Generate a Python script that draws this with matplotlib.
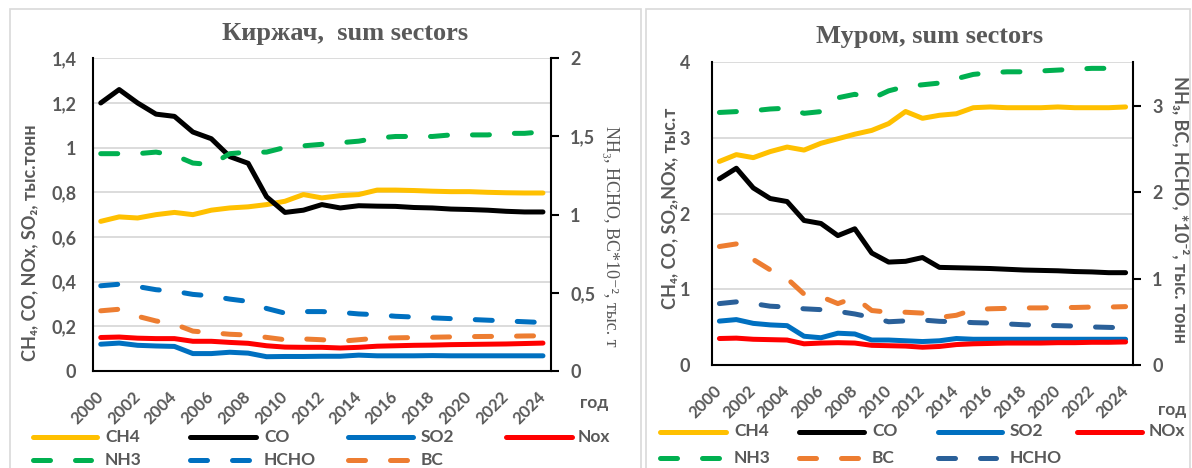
import matplotlib
matplotlib.use("Agg")
import matplotlib.pyplot as plt
from matplotlib.lines import Line2D
from matplotlib.patches import Rectangle
from matplotlib.ticker import FuncFormatter

# ---------------- data ----------------
years = list(range(2000, 2025))
year_ticks = list(range(2000, 2025, 2))

# Киржач (left axis: CH4, CO, SO2, NOx; right axis: NH3, HCHO, BC*10^-2)
kir_ch4 = [0.67, 0.69, 0.685, 0.70, 0.71, 0.70, 0.72, 0.73, 0.735, 0.745, 0.76, 0.79,
           0.775, 0.785, 0.79, 0.81, 0.81, 0.808, 0.805, 0.803, 0.803, 0.80, 0.798, 0.797, 0.797]
kir_co = [1.20, 1.26, 1.20, 1.15, 1.14, 1.07, 1.04, 0.96, 0.93, 0.78, 0.71, 0.72,
          0.745, 0.73, 0.74, 0.738, 0.737, 0.732, 0.73, 0.725, 0.723, 0.72, 0.715, 0.712, 0.712]
kir_so2 = [0.120, 0.125, 0.115, 0.112, 0.110, 0.078, 0.078, 0.084, 0.080, 0.064, 0.065, 0.065,
           0.066, 0.066, 0.071, 0.068, 0.068, 0.068, 0.069, 0.068, 0.068, 0.068, 0.068, 0.068, 0.068]
kir_nox = [0.150, 0.152, 0.147, 0.145, 0.145, 0.133, 0.133, 0.128, 0.124, 0.113, 0.107, 0.106,
           0.106, 0.103, 0.106, 0.111, 0.113, 0.115, 0.116, 0.118, 0.119, 0.120, 0.121, 0.123, 0.125]
kir_nh3 = [1.39, 1.39, 1.39, 1.40, 1.38, 1.33, 1.32, 1.39, 1.40, 1.40, 1.43, 1.44,
           1.45, 1.46, 1.47, 1.49, 1.50, 1.50, 1.50, 1.51, 1.51, 1.51, 1.52, 1.52, 1.53]
kir_hcho = [0.545, 0.555, 0.54, 0.52, 0.51, 0.49, 0.48, 0.46, 0.445, 0.40, 0.37, 0.38,
            0.38, 0.375, 0.365, 0.36, 0.35, 0.345, 0.34, 0.335, 0.33, 0.325, 0.32, 0.315, 0.31]
kir_bc = [0.385, 0.395, 0.35, 0.32, 0.30, 0.255, 0.245, 0.235, 0.23, 0.215, 0.20, 0.205,
          0.20, 0.19, 0.20, 0.21, 0.212, 0.214, 0.216, 0.218, 0.22, 0.221, 0.222, 0.224, 0.225]

# Муром (left axis: CH4, CO, SO2, NOx; right axis: NH3, BC, HCHO *10^-2)
mur_ch4 = [2.69, 2.78, 2.74, 2.82, 2.88, 2.84, 2.93, 2.99, 3.05, 3.10, 3.19, 3.35,
           3.26, 3.30, 3.32, 3.40, 3.41, 3.40, 3.40, 3.40, 3.41, 3.40, 3.40, 3.40, 3.41]
mur_co = [2.46, 2.60, 2.34, 2.20, 2.16, 1.91, 1.87, 1.71, 1.80, 1.48, 1.36, 1.37,
          1.42, 1.29, 1.285, 1.28, 1.275, 1.265, 1.255, 1.25, 1.245, 1.235, 1.23, 1.22, 1.22]
mur_so2 = [0.58, 0.60, 0.55, 0.53, 0.52, 0.38, 0.36, 0.42, 0.41, 0.33, 0.33, 0.32,
           0.31, 0.32, 0.35, 0.34, 0.34, 0.34, 0.34, 0.34, 0.34, 0.34, 0.34, 0.34, 0.34]
mur_nox = [0.35, 0.355, 0.34, 0.335, 0.33, 0.28, 0.29, 0.295, 0.29, 0.26, 0.255, 0.25,
           0.235, 0.245, 0.27, 0.28, 0.285, 0.29, 0.29, 0.29, 0.295, 0.295, 0.30, 0.30, 0.305]
mur_nh3 = [2.92, 2.93, 2.94, 2.96, 2.97, 2.91, 2.93, 3.09, 3.13, 3.08, 3.17, 3.22,
           3.24, 3.26, 3.31, 3.36, 3.38, 3.39, 3.39, 3.40, 3.41, 3.42, 3.43, 3.43, 3.44]
mur_bc = [1.37, 1.40, 1.22, 1.10, 1.00, 0.82, 0.79, 0.71, 0.78, 0.63, 0.61, 0.61,
          0.60, 0.55, 0.575, 0.64, 0.65, 0.655, 0.66, 0.66, 0.665, 0.665, 0.67, 0.67, 0.675]
mur_hcho = [0.71, 0.73, 0.71, 0.68, 0.67, 0.65, 0.64, 0.62, 0.59, 0.55, 0.50, 0.51,
            0.52, 0.505, 0.50, 0.49, 0.485, 0.475, 0.465, 0.46, 0.455, 0.45, 0.44, 0.435, 0.43]

# axis ranges and tick values
kir_left_ticks = [0, 0.2, 0.4, 0.6, 0.8, 1.0, 1.2, 1.4]
kir_right_ticks = [0, 0.5, 1.0, 1.5, 2.0]
mur_left_ticks = [0, 1, 2, 3, 4]
mur_right_ticks = [0, 1, 2, 3]

# ---------------- style ----------------
W, H = 1192, 468
GREY = "#595959"
SANS = ["Lato", "DejaVu Sans"]
SERIF = ["Liberation Serif", "DejaVu Serif"]
C_CH4, C_CO, C_SO2, C_NOX = "#FFC000", "#000000", "#0070C0", "#FF0000"
C_NH3, C_HCHO, C_BC, C_HCHO2 = "#00B050", "#0070C0", "#ED7D31", "#2A6099"
LW = 3.6
DASH = (3.4, 5.0)

plt.rcParams["font.family"] = SANS
plt.rcParams["font.weight"] = "bold"

fig = plt.figure(figsize=(W / 100, H / 100), dpi=100)


def fx(x):
    return x / W


def fy(y):
    return 1 - y / H


def comma(v, _pos=None):
    return f"{v:g}".replace(".", ",")


def solid(ax, y, color, label):
    ax.plot(years, y, color=color, lw=LW, solid_capstyle="round",
            solid_joinstyle="round", label=label)


def dashed(ax, y, color, label):
    ax.plot(years, y, color=color, lw=LW, dashes=DASH, dash_capstyle="round",
            dash_joinstyle="round", label=label)


def setup_panel(rect, lticks, ymax, rticks, ymax2, lpad, rpad):
    ax = fig.add_axes(rect)
    ax.set_xlim(1999.58, 2024.42)
    ax.set_ylim(0, ymax)
    ax.set_yticks(lticks)
    ax.yaxis.set_major_formatter(FuncFormatter(comma))
    ax.grid(axis="y", color="#D9D9D9", lw=1.3)
    ax.set_axisbelow(True)
    for s in ("top", "right"):
        ax.spines[s].set_visible(False)
    for s in ("left", "bottom"):
        ax.spines[s].set_linewidth(1.5)
        ax.spines[s].set_color("black")
    ax.tick_params(axis="y", length=0, pad=lpad, labelsize=13, labelcolor=GREY)
    ax.set_xticks(year_ticks)
    ax.set_xticklabels([str(t) for t in year_ticks], rotation=45, ha="right",
                       va="center", rotation_mode="anchor")
    ax.tick_params(axis="x", length=0, pad=17, labelsize=12, labelcolor=GREY)

    ax2 = ax.twinx()
    ax2.set_ylim(0, ymax2)
    ax2.set_yticks(rticks)
    ax2.yaxis.set_major_formatter(FuncFormatter(comma))
    for s in ("top", "left", "bottom"):
        ax2.spines[s].set_visible(False)
    ax2.spines["right"].set_linewidth(1.5)
    ax2.spines["right"].set_color("black")
    ax2.tick_params(axis="y", direction="out", length=6, width=1.5, color="black",
                    pad=rpad, labelsize=13, labelcolor=GREY)
    return ax, ax2


def legend_entry(x0, x1, y, color, is_dashed, label, tx):
    kw = dict(color=color, lw=LW, transform=fig.transFigure)
    if is_dashed:
        kw.update(dashes=DASH, dash_capstyle="round")
    else:
        kw.update(solid_capstyle="round")
    fig.add_artist(Line2D([fx(x0 + 2.5), fx(x1 - 2.5)], [fy(y), fy(y)], **kw))
    fig.text(fx(tx), fy(y), label, color=GREY, fontsize=12.5, va="center", ha="left")


# panel frames
fig.add_artist(Rectangle((fx(9.5), fy(480)), fx(641) - fx(9.5), fy(9.5) - fy(480),
                         transform=fig.transFigure, fill=False, ec="#D9D9D9", lw=1.2))
fig.add_artist(Rectangle((fx(645.5), fy(480)), fx(1190) - fx(645.5), fy(9.5) - fy(480),
                         transform=fig.transFigure, fill=False, ec="#D9D9D9", lw=1.2))

# ---------------- Киржач ----------------
axk, axk2 = setup_panel([fx(93), fy(371), fx(550.7) - fx(93), fy(58.3) - fy(371)],
                        kir_left_ticks, 1.4, kir_right_ticks, 2.0, 12, 8)
solid(axk, kir_ch4, C_CH4, "CH4")
solid(axk, kir_co, C_CO, "CO")
solid(axk, kir_so2, C_SO2, "SO2")
solid(axk, kir_nox, C_NOX, "Nox")
dashed(axk2, kir_nh3, C_NH3, "NH3")
dashed(axk2, kir_hcho, C_HCHO, "HCHO")
dashed(axk2, kir_bc, C_BC, "BC")

fig.text(fx(345), fy(40), "Киржач,  sum sectors", family=SERIF, weight="bold",
         fontsize=19, color=GREY, ha="center", va="baseline")
fig.text(fx(30), fy(243), "CH₄, CO, NOx, SO₂, тыс.тонн", rotation=90, fontsize=13,
         color=GREY, ha="center", va="center")
fig.text(fx(611), fy(236), "NH₃, HCHO, BC*10⁻², тыс. т", rotation=270, family=SERIF,
         weight="normal", fontsize=13, color=GREY, ha="center", va="center")
fig.text(fx(580), fy(403), "год", fontsize=12.5, color=GREY, ha="left", va="center")

legend_entry(30, 99, 436.5, C_CH4, False, "CH4", 105)
legend_entry(187, 258, 436.5, C_CO, False, "CO", 264)
legend_entry(346, 415, 436.5, C_SO2, False, "SO2", 421)
legend_entry(503, 574, 436.5, C_NOX, False, "Nox", 578)
legend_entry(30, 94, 460, C_NH3, True, "NH3", 105)
legend_entry(187, 251, 460, C_HCHO, True, "HCHO", 264)
legend_entry(346, 410, 460, C_BC, True, "BC", 421)

# ---------------- Муром ----------------
axm, axm2 = setup_panel([fx(712.3), fy(365), fx(1132.7) - fx(712.3), fy(62.3) - fy(365)],
                        mur_left_ticks, 4.0, mur_right_ticks, 3.5, 16, 8)
solid(axm, mur_ch4, C_CH4, "CH4")
solid(axm, mur_co, C_CO, "CO")
solid(axm, mur_so2, C_SO2, "SO2")
solid(axm, mur_nox, C_NOX, "NOx")
dashed(axm2, mur_nh3, C_NH3, "NH3")
dashed(axm2, mur_bc, C_BC, "BC")
dashed(axm2, mur_hcho, C_HCHO2, "HCHO")

fig.text(fx(930), fy(42.5), "Муром, sum sectors", family=SERIF, weight="bold",
         fontsize=19, color=GREY, ha="center", va="baseline")
fig.text(fx(670), fy(208), "CH₄, CO, SO₂,NOx, тыс.т", rotation=90, fontsize=13,
         color=GREY, ha="center", va="center")
fig.text(fx(1181), fy(210), "NH₃, BC, HCHO, *10⁻², тыс. тонн", rotation=270, fontsize=13,
         color=GREY, ha="center", va="center")
fig.text(fx(1158), fy(410), "год", fontsize=12.5, color=GREY, ha="left", va="center")

legend_entry(657, 728, 431.5, C_CH4, False, "CH4", 734)
legend_entry(796, 866, 431.5, C_CO, False, "CO", 872)
legend_entry(935, 1004, 431.5, C_SO2, False, "SO2", 1010)
legend_entry(1074, 1144, 431.5, C_NOX, False, "NOx", 1149)
legend_entry(657, 721, 458, C_NH3, True, "NH3", 734)
legend_entry(796, 860, 458, C_BC, True, "BC", 872)
legend_entry(935, 998, 458, C_HCHO2, True, "HCHO", 1010)

fig.savefig("out.png", dpi=100)
